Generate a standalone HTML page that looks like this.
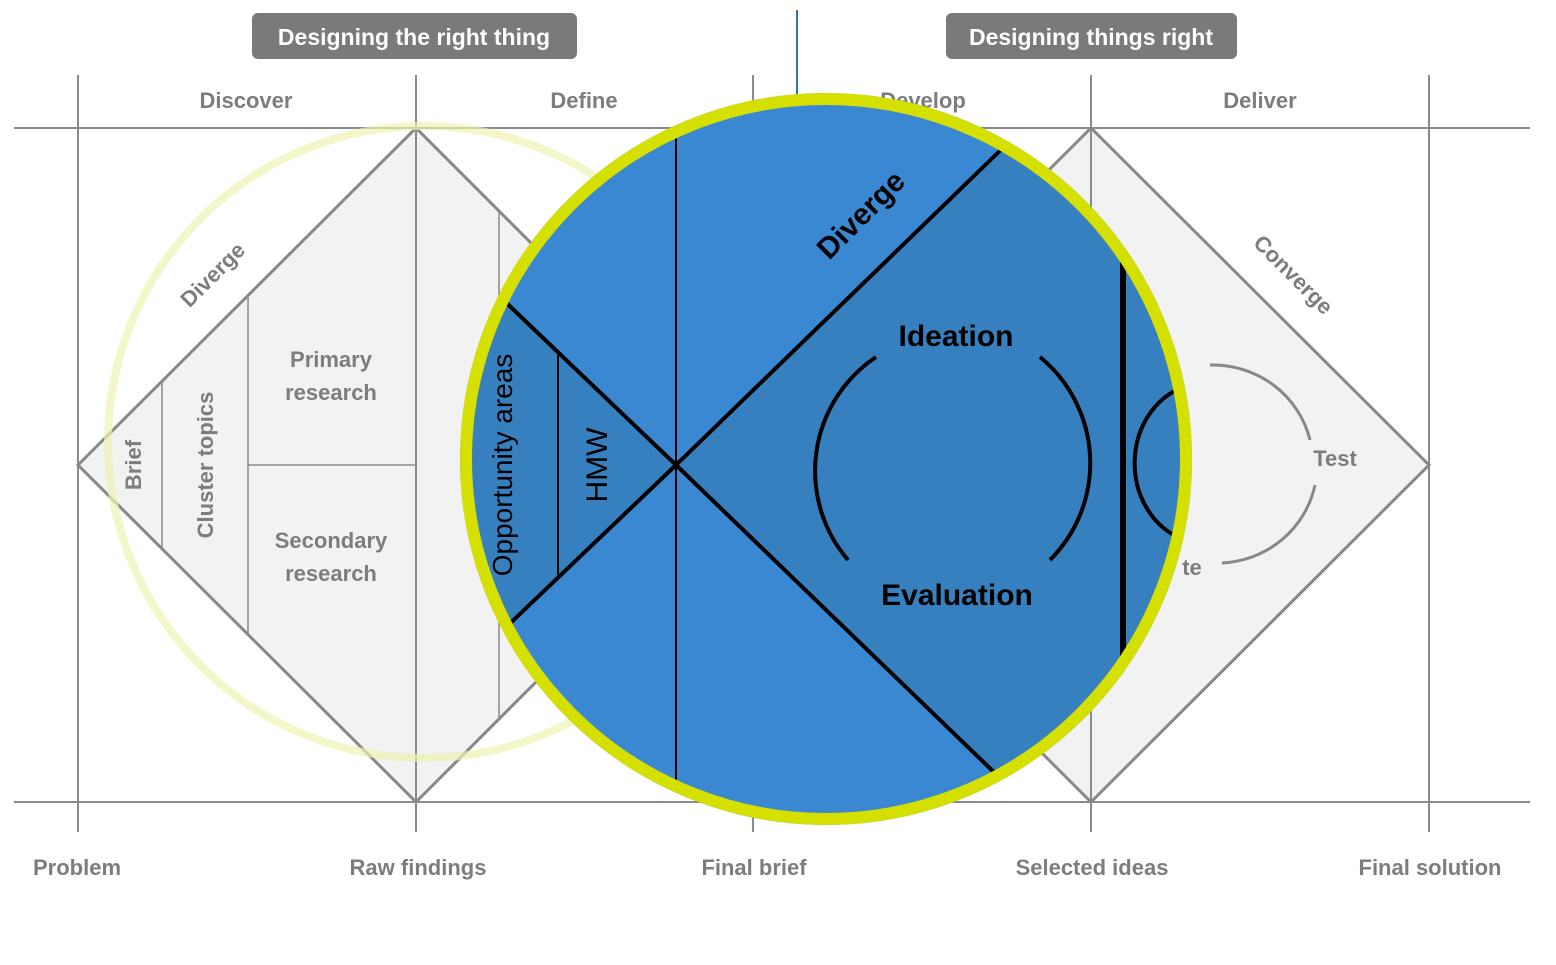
<!DOCTYPE html>
<html><head><meta charset="utf-8"><style>
html,body{margin:0;padding:0;background:#fff;}
svg{display:block;font-family:"Liberation Sans",sans-serif;}
</style></head><body>
<svg width="1556" height="965" viewBox="0 0 1556 965" xmlns="http://www.w3.org/2000/svg">
<defs>
<clipPath id="c"><circle cx="826" cy="459" r="360"/></clipPath>
</defs>
<rect width="1556" height="965" fill="#fff"/>
<!-- diamonds -->
<polygon points="78,465 416,128 753,465 416,802" fill="#f2f2f2" stroke="#888" stroke-width="3"/>
<polygon points="753,465 1091,128 1429,465 1091,802" fill="#f2f2f2" stroke="#888" stroke-width="3"/>
<!-- grid -->
<g stroke="#8a8a8a" stroke-width="2">
<line x1="14" y1="128" x2="1530" y2="128"/>
<line x1="14" y1="802" x2="1530" y2="802"/>
<line x1="78" y1="75" x2="78" y2="832"/>
<line x1="416" y1="75" x2="416" y2="832"/>
<line x1="753" y1="75" x2="753" y2="832"/>
<line x1="1091" y1="75" x2="1091" y2="832"/>
<line x1="1429" y1="75" x2="1429" y2="832"/>
<line x1="162" y1="381" x2="162" y2="549" stroke-width="1.5"/>
<line x1="248" y1="297" x2="248" y2="633" stroke-width="1.5"/>
<line x1="248" y1="465" x2="416" y2="465" stroke-width="1.5"/>
<line x1="499" y1="212" x2="499" y2="717" stroke-width="1.5"/>
</g>
<line x1="797" y1="10" x2="797" y2="100" stroke="#2f74b8" stroke-width="2"/>
<!-- headers -->
<rect x="252" y="13" width="325" height="46" rx="6" fill="#7a7a7a"/>
<text x="414" y="45" text-anchor="middle" fill="#fff" font-size="23" font-weight="bold">Designing the right thing</text>
<rect x="946" y="13" width="291" height="46" rx="6" fill="#7a7a7a"/>
<text x="1091" y="45" text-anchor="middle" fill="#fff" font-size="23" font-weight="bold">Designing things right</text>
<g fill="#7d7d7d" font-size="22" text-anchor="middle" font-weight="bold">
<text x="246" y="108">Discover</text>
<text x="584" y="108">Define</text>
<text x="923" y="108">Develop</text>
<text x="1260" y="108">Deliver</text>
<text x="77" y="875">Problem</text>
<text x="418" y="875">Raw findings</text>
<text x="754" y="875">Final brief</text>
<text x="1092" y="875">Selected ideas</text>
<text x="1430" y="875">Final solution</text>
<text transform="translate(218,280) rotate(-45)">Diverge</text>
<text transform="translate(1288,280) rotate(45)">Converge</text>
<text transform="translate(141,465) rotate(-90)">Brief</text>
<text transform="translate(213,465) rotate(-90)">Cluster topics</text>
<text x="331" y="367">Primary</text>
<text x="331" y="400">research</text>
<text x="331" y="548">Secondary</text>
<text x="331" y="581">research</text>
<text x="1335" y="466">Test</text>
<text x="1192" y="575">te</text>
</g>
<path d="M1210,365 A100,98 0 0 1 1310,440 M1315,485 A100,98 0 0 1 1222,563" fill="none" stroke="#888" stroke-width="3"/>
<!-- pale circle -->
<circle cx="424" cy="442" r="316" fill="none" stroke="#eef2b0" stroke-width="8" opacity="0.7"/>
<!-- big blue circle -->
<circle cx="826" cy="459" r="366" fill="#3a87d2"/>
<g clip-path="url(#c)">
<polygon points="676,465 1003,148 1123,148 1123,780 995,773" fill="#3680c0"/>
<polygon points="676,465 500,297 440,297 440,628 505,628" fill="#3680c0"/>
<rect x="1123" y="150" width="100" height="620" fill="#3680c0"/>
<g stroke="#000" fill="none">
<line x1="676" y1="465" x2="1010" y2="141" stroke-width="4"/>
<line x1="676" y1="465" x2="1000" y2="778" stroke-width="4"/>
<line x1="676" y1="465" x2="495" y2="292" stroke-width="4"/>
<line x1="676" y1="465" x2="500" y2="633" stroke-width="4"/>
<line x1="558" y1="355" x2="558" y2="575" stroke-width="2"/>
<line x1="676" y1="135" x2="676" y2="780" stroke-width="2"/>
<line x1="1123" y1="255" x2="1123" y2="665" stroke-width="6"/>
<path d="M876,357 A137,137 0 0 0 848,560" stroke-width="4"/>
<path d="M1040,357 A137,137 0 0 1 1050,560" stroke-width="4"/>
<path d="M1190,385 A70,80 0 0 0 1185,540" stroke-width="4"/>
</g>
<g fill="#000" font-weight="bold" text-anchor="middle">
<text transform="translate(868,222) rotate(-45)" font-size="30">Diverge</text>
<text x="956" y="346" font-size="30">Ideation</text>
<text x="957" y="605" font-size="30">Evaluation</text>
<text transform="translate(512,465) rotate(-90)" font-size="28" font-weight="normal">Opportunity areas</text>
<text transform="translate(607,465) rotate(-90)" font-size="30" font-weight="normal">HMW</text>
</g>
</g>
<circle cx="826" cy="459" r="360" fill="none" stroke="#d6e000" stroke-width="12"/>
</svg>
</body></html>
